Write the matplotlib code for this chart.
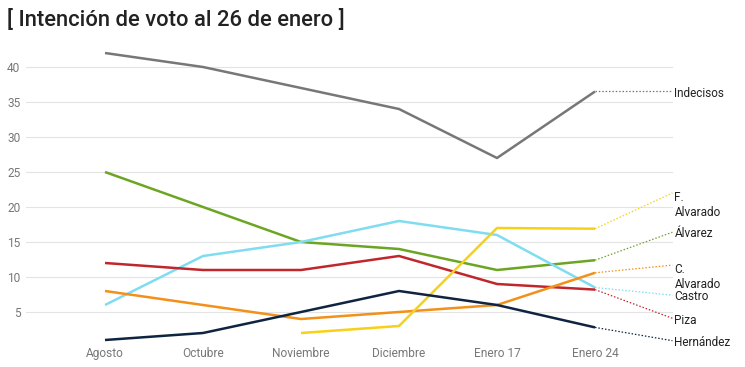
import matplotlib
matplotlib.use("Agg")
import matplotlib.pyplot as plt
import numpy as np

plt.rcParams['font.family'] = ['Roboto', 'DejaVu Sans']

months = ["Agosto", "Octubre", "Noviembre", "Diciembre", "Enero 17", "Enero 24"]
yticks = [5, 10, 15, 20, 25, 30, 35, 40]

names = ["Indecisos", "Álvarez", "Castro", "Piza", "C.\nAlvarado", "F.\nAlvarado", "Hernández"]
indecisos = [42, 40, 37, 34, 27, 36.5]
alvarez = [25, 20, 15, 14, 11, 12.4]
castro = [6, 13, 15, 18, 16, 8.5]
piza = [12, 11, 11, 13, 9, 8.2]
c_alvarado = [8, 6, 4, 5, 6, 10.6]
f_alvarado = [None, None, 2, 3, 17, 16.9]
hernandez = [1, 2, 5, 8, 6, 2.8]
series = [indecisos, alvarez, castro, piza, c_alvarado, f_alvarado, hernandez]

colors = ["#777777", "#6ca522", "#80dcf0", "#c0272d", "#f39019", "#f7d117", "#0e2440"]
label_y = [36.5, 16.4, 7.4, 4.1, 11.7, 22.0, 0.9]

fig = plt.figure(figsize=(7.45, 3.67), dpi=100)
ax = fig.add_axes([26/745, 1-344/367, (673-26)/745, (344-40)/367])

x = np.arange(len(months))
for vals, c, name, ly in zip(series, colors, names, label_y):
    v = np.array([np.nan if a is None else a for a in vals], dtype=float)
    ax.plot(x, v, color=c, lw=1.8, solid_capstyle='butt', zorder=3)
    xe = 5.79
    ax.plot([x[-1], xe], [v[-1], ly], color=c, lw=0.9, ls=(0, (1.2, 1.5)), clip_on=False, zorder=3)
    if "\n" in name:
        ax.text(xe + 0.02, ly + 0.3, name, ha='left', va='top', fontsize=8.5, color="#222222",
                linespacing=1.2, clip_on=False)
    else:
        ax.text(xe + 0.02, ly - 0.25, name, ha='left', va='center', fontsize=8.5, color="#222222", clip_on=False)

ax.set_xlim(-79/98, 5 + 78/98)
ax.set_ylim((347-344)/7, 307/7)
ax.set_xticks(x)
ax.set_xticklabels(months)
ax.set_yticks(yticks)
ax.grid(axis='y', color="#e3e3e3", lw=0.8)
ax.set_axisbelow(True)
for s in ax.spines.values():
    s.set_visible(False)
ax.tick_params(axis='both', length=0, labelsize=8.6, labelcolor="#777777")
ax.tick_params(axis='x', pad=2.5)
ax.tick_params(axis='y', pad=4)

fig.text(7/745, 1-20/367, "[ Intención de voto al 26 de enero ]", fontsize=15.8, color="#222222",
         ha='left', va='center', fontweight='medium')

fig.savefig("out.png", dpi=100)
